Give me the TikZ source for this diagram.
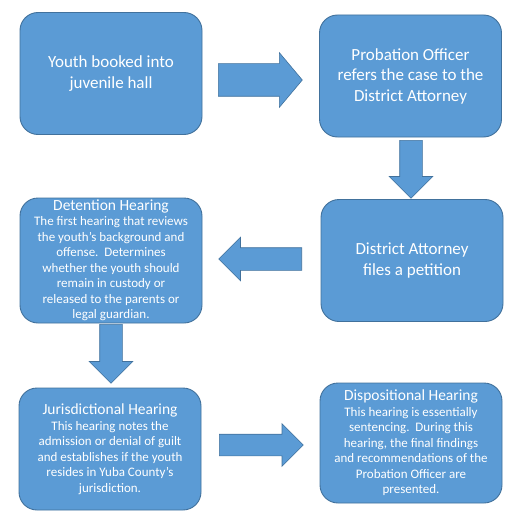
\documentclass[tikz,border=0pt]{standalone}
\usepackage{fontspec}
\setmainfont{Carlito}
\usetikzlibrary{shapes.arrows}

\definecolor{boxfill}{HTML}{5B9BD5}
\definecolor{boxedge}{HTML}{41719C}
\newcommand{\mainsize}{\fontsize{17}{20.5}\selectfont}
\newcommand{\titlesize}{\fontsize{15.5}{16}\selectfont}
\newcommand{\bodysize}{\fontsize{13}{15.5}\selectfont}

\begin{document}
\begin{tikzpicture}[
    x=1pt, y=-1pt,
    stagebox/.style={draw=boxedge, fill=boxfill, line width=0.9pt,
        rounded corners=18pt, text=white, align=center,
        minimum width=182pt, minimum height=122pt,
        inner xsep=2pt, inner ysep=0pt, font=\mainsize},
    hearingbox/.style={stagebox, font=\bodysize},
    flowarrow/.style={single arrow, draw=boxedge, fill=boxfill, line width=0.6pt,
        inner xsep=0pt, inner ysep=11pt, single arrow head extend=10.5pt,
        single arrow tip angle=90, minimum height=84pt, anchor=tail},
]

% Canvas (pixel grid of the reference, y running down)
\useasboundingbox (0,0) rectangle (523,524);

% === Steps before the hearings ===
\node[stagebox] (youth) at (111,73.5) {Youth booked into\\juvenile hall};
\node[stagebox] (probation) at (410.5,76)
    {Probation Officer\\refers the case to the\\District Attorney};
\node[stagebox] (petition) at (412,260.5) {District Attorney\\files a petition};

% === Hearings ===
\node[hearingbox, minimum height=125pt] (detention) at (111,260.5)
    {{\titlesize Detention Hearing}\\The first hearing that reviews\\the youth’s background and\\offense.\ \ Determines\\whether the youth should\\remain in custody or\\released to the parents or\\legal guardian.};
\node[hearingbox] (jurisdiction) at (110,449)
    {{\titlesize Jurisdictional Hearing}\\This hearing notes the\\admission or denial of guilt\\and establishes if the youth\\resides in Yuba County’s\\jurisdiction.};
\node[hearingbox, minimum height=120pt] (disposition) at (411,443)
    {{\titlesize Dispositional Hearing}\\This hearing is essentially\\sentencing.\ \ During this\\hearing, the final findings\\and recommendations of the\\Probation Officer are\\presented.};

% === Block arrows between the steps (placed by their tails) ===
\node[flowarrow, inner ysep=16pt, single arrow head extend=11pt,
    single arrow tip angle=100] (refer) at (218,80) {};
\node[flowarrow, rotate=-90, minimum height=58pt] (file) at (411,140) {};
\node[flowarrow, rotate=180, minimum height=83pt] (detain) at (302,259) {};
\node[flowarrow, rotate=-90, minimum height=59pt] (hear) at (111,324) {};
\node[flowarrow, inner ysep=10.5pt] (dispose) at (219,445) {};

\end{tikzpicture}
\end{document}
